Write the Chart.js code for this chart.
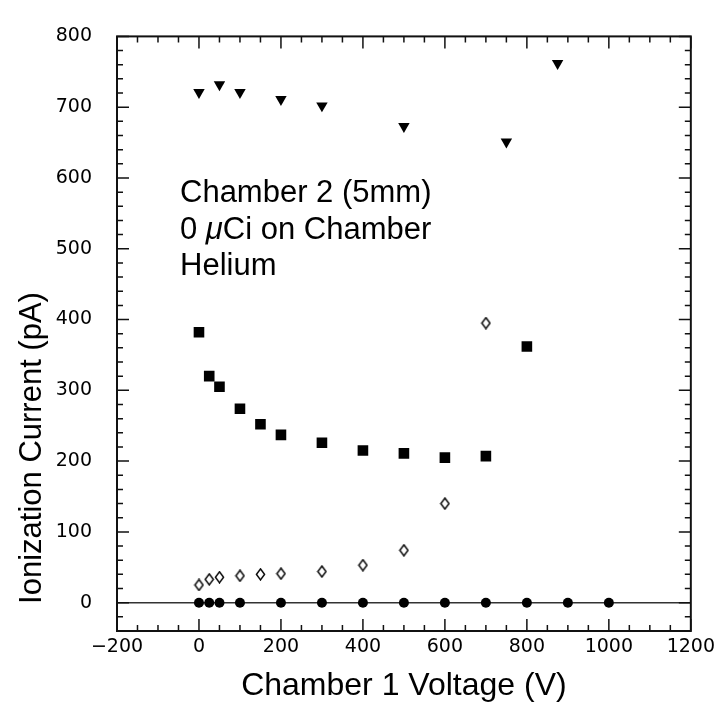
<!DOCTYPE html>
<html>
<head>
<meta charset="utf-8">
<script src="https://cdn.jsdelivr.net/npm/chart.js@4.4.0/dist/chart.umd.min.js"></script>
<style>
html,body{margin:0;padding:0;background:#fff}
#wrap{width:720px;height:706px}
</style>
</head>
<body>
<div id="wrap"><canvas id="c"></canvas></div>
<script>
// values
var voltsTri = [0, 50, 100, 200, 300, 500, 750, 875];
var currTri  = [721, 732, 721, 711, 702, 673, 651, 762];
var voltsSq  = [0, 25, 50, 100, 150, 200, 300, 400, 500, 600, 700, 800];
var currSq   = [382, 320, 305, 274, 252, 237, 226, 215, 211, 205, 207, 362];
var voltsDia = [0, 25, 50, 100, 150, 200, 300, 400, 500, 600, 700];
var currDia  = [25, 33, 36, 38, 40, 41, 44, 53, 74, 140, 395];
var voltsDot = [0, 25, 50, 100, 200, 300, 400, 500, 600, 700, 800, 900, 1000];
var currDot  = [0, 0, 0, 0, 0, 0, 0, 0, 0, 0, 0, 0, 0];
var xTickLabels = [-200, 0, 200, 400, 600, 800, 1000, 1200];
var yTickLabels = [0, 100, 200, 300, 400, 500, 600, 700, 800];
var noteLines = ['Chamber 2 (5mm)', '0 |\u03bc|Ci on Chamber', 'Helium'];

var titleFont = '31px "Liberation Sans"';

function pts(xs, ys){
  var out = [];
  for (var i = 0; i < xs.length; i++) out.push({x: xs[i], y: ys[i]});
  return out;
}

function diamond(){
  var c = document.createElement('canvas');
  c.width = 11; c.height = 13;
  var g = c.getContext('2d');
  g.strokeStyle = '#000';
  g.lineWidth = 1.4;
  g.beginPath();
  g.moveTo(5.5, 1); g.lineTo(9.6, 6.5); g.lineTo(5.5, 12); g.lineTo(1.4, 6.5);
  g.closePath();
  g.stroke();
  return c;
}

// frame with inward ticks on all sides, zero line, notes, y title
var framePlugin = {
  id: 'frame',
  beforeDatasetsDraw: function(chart){
    var ctx = chart.ctx, a = chart.chartArea, y0 = chart.scales.y.getPixelForValue(0);
    ctx.save();
    ctx.strokeStyle = '#333';
    ctx.lineWidth = 1.6;
    ctx.beginPath();
    ctx.moveTo(a.left, y0); ctx.lineTo(a.right, y0);
    ctx.stroke();
    ctx.restore();
  },
  afterDraw: function(chart){
    var ctx = chart.ctx, a = chart.chartArea, sx = chart.scales.x, sy = chart.scales.y;
    ctx.save();
    ctx.strokeStyle = '#111';
    ctx.lineWidth = 2;
    ctx.strokeRect(a.left, a.top, a.right - a.left, a.bottom - a.top);
    ctx.lineWidth = 1.5;
    ctx.beginPath();
    var v, p, len;
    for (v = sx.min; v <= sx.max; v += 50) {
      p = sx.getPixelForValue(v);
      len = (v % 200 === 0) ? 12 : 6;
      ctx.moveTo(p, a.bottom); ctx.lineTo(p, a.bottom - len);
      ctx.moveTo(p, a.top); ctx.lineTo(p, a.top + len);
    }
    for (v = sy.min; v <= sy.max; v += 20) {
      p = sy.getPixelForValue(v);
      len = (v % 100 === 0) ? 12 : 6;
      ctx.moveTo(a.left, p); ctx.lineTo(a.left + len, p);
      ctx.moveTo(a.right, p); ctx.lineTo(a.right - len, p);
    }
    ctx.stroke();

    // notes
    ctx.fillStyle = '#000';
    ctx.textBaseline = 'alphabetic';
    ctx.textAlign = 'left';
    for (var i = 0; i < noteLines.length; i++) {
      var parts = noteLines[i].split('|'), x = 180, y = 202 + i * 36.5;
      for (var j = 0; j < parts.length; j++) {
        ctx.font = (j === 1 ? 'italic ' : '') + titleFont;
        ctx.fillText(parts[j], x, y);
        x += ctx.measureText(parts[j]).width;
      }
    }

    // y title
    ctx.font = titleFont;
    ctx.translate(41, 448);
    ctx.rotate(-Math.PI / 2);
    ctx.textAlign = 'center';
    ctx.fillText('Ionization Current (pA)', 0, 0);
    ctx.restore();
  }
};

var chartdata = {
  datasets: [
    {label: 'tri', data: pts(voltsTri, currTri), pointStyle: 'triangle', rotation: 180,
     pointRadius: 6.6, backgroundColor: '#000', borderColor: '#000', borderWidth: 0, showLine: false},
    {label: 'sq', data: pts(voltsSq, currSq), pointStyle: 'rect',
     pointRadius: 7.5, backgroundColor: '#000', borderColor: '#000', borderWidth: 0, showLine: false},
    {label: 'dia', data: pts(voltsDia, currDia), pointStyle: diamond(),
     pointRadius: 6, showLine: false},
    {label: 'dot', data: pts(voltsDot, currDot), pointStyle: 'circle',
     pointRadius: 5, backgroundColor: '#000', borderColor: '#000', borderWidth: 0, showLine: false}
  ]
};

var options = {
  responsive: true,
  maintainAspectRatio: false,
  animation: false,
  events: [],
  layout: {padding: {top: 17, right: 27, left: 0, bottom: 0}},
  plugins: {legend: {display: false}, tooltip: {enabled: false}},
  scales: {
    x: {
      type: 'linear', min: -200, max: 1200,
      afterFit: function(s){ s.height = 75; },
      grid: {display: false, drawTicks: false},
      border: {display: false},
      afterBuildTicks: function(s){ s.ticks = xTickLabels.map(function(v){ return {value: v}; }); },
      ticks: {
        autoSkip: false, maxRotation: 0, padding: 5, color: '#000',
        font: {family: 'DejaVu Sans', size: 19},
        callback: function(v){ return String(v).replace('-', '\u2212'); }
      },
      title: {display: true, text: 'Chamber 1 Voltage (V)', color: '#000',
              font: {family: 'Liberation Sans', size: 32}, padding: {top: 0, bottom: 1}}
    },
    y: {
      type: 'linear', min: -40, max: 800,
      afterFit: function(s){ s.width = 117; },
      grid: {display: false, drawTicks: false},
      border: {display: false},
      afterBuildTicks: function(s){ s.ticks = yTickLabels.map(function(v){ return {value: v}; }); },
      ticks: {
        autoSkip: false, padding: 25, color: '#000',
        font: {family: 'DejaVu Sans', size: 19}
      }
    }
  }
};

var chart = new Chart(document.getElementById('c'), {
  type: 'scatter',
  data: chartdata,
  options: options,
  plugins: [framePlugin]
});
</script>
</body>
</html>
